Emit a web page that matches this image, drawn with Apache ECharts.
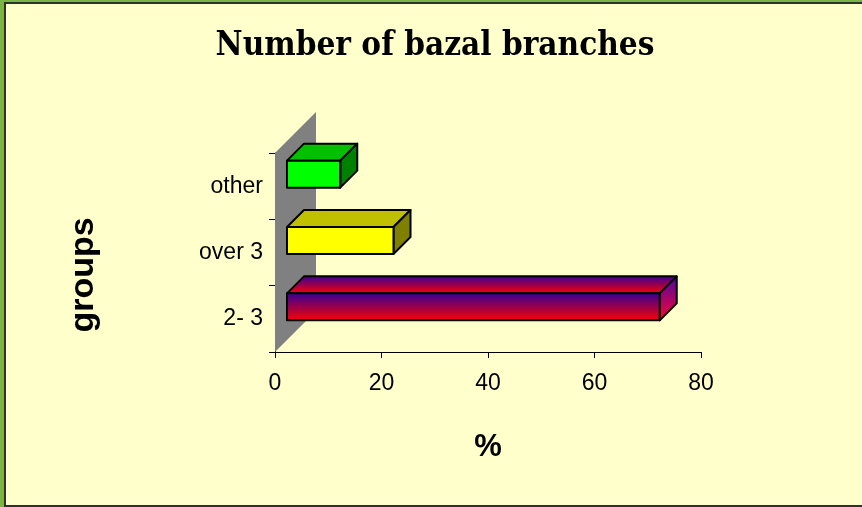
<!DOCTYPE html>
<html>
<head>
<meta charset="utf-8">
<script src="https://cdn.jsdelivr.net/npm/echarts@6/dist/echarts.min.js"></script>
<style>
  html, body { margin: 0; padding: 0; background: #7cb342; }
  #bg {
    position: absolute; left: 4px; top: 2px; width: 858px; height: 505px;
    box-sizing: border-box; background: #ffffcc;
    border-left: 2px solid #303030; border-top: 2px solid #303030; border-bottom: 2px solid #303030;
  }
  #chart { position: absolute; left: 0; top: 0; width: 862px; height: 507px; }
</style>
</head>
<body>
<div id="bg"></div>
<div id="chart"></div>
<script>
// categories bottom -> top, as ECharts lays them out on a category y axis
const groups = ['2- 3', 'over 3', 'other'];
const percent = [70, 20, 10];
const xTicks = [0, 20, 40, 60, 80];

// face colours per group: front, top, side
const faces = [
  { front: ['#330099', '#ff0000'], top: ['#330099', '#ff0000'], side: ['#4a0aa0', '#ff0033'] },
  { front: ['#ffff00'], top: ['#c0c000'], side: ['#808000'] },
  { front: ['#00ff00'], top: ['#00c000'], side: ['#008000'] }
];

const WALL = 41;     // depth of the back wall
const DEPTH = 17;    // depth of a bar
const OFF = 12;      // bar sits in the middle of the wall depth
const BAR_H = 27;

function fillOf(cols) {
  if (cols.length === 1) return cols[0];
  return new echarts.graphic.LinearGradient(0, 0, 0, 1, [
    { offset: 0, color: cols[0] },
    { offset: 1, color: cols[1] }
  ]);
}

function renderWall(params, api) {
  const band = api.size([0, 1])[1];
  const base = api.coord([0, 0]);
  const top = api.coord([0, groups.length - 1]);
  const x0 = base[0];
  const yB = base[1] + band / 2;
  const yT = top[1] - band / 2;
  return {
    type: 'polygon',
    shape: { points: [[x0, yT], [x0 + WALL, yT - WALL], [x0 + WALL, yB - WALL], [x0, yB]] },
    style: { fill: '#808080', stroke: null }
  };
}

function renderBar(params, api) {
  const v = api.value(0);
  const i = api.value(1);
  const start = api.coord([0, i]);
  const end = api.coord([v, i]);
  const f = faces[i];
  const x1 = start[0] + OFF;
  const x2 = end[0] + OFF;
  const yT = start[1] - OFF - BAR_H / 2;
  const yB = yT + BAR_H;
  const d = DEPTH;
  const line = { stroke: '#000', lineWidth: 2, lineJoin: 'round' };
  return {
    type: 'group',
    children: [
      {
        type: 'polygon',
        shape: { points: [[x1, yT], [x2, yT], [x2 + d, yT - d], [x1 + d, yT - d]] },
        style: Object.assign({ fill: fillOf(f.top) }, line)
      },
      {
        type: 'polygon',
        shape: { points: [[x2, yT], [x2 + d, yT - d], [x2 + d, yB - d], [x2, yB]] },
        style: Object.assign({ fill: fillOf(f.side) }, line)
      },
      {
        type: 'rect',
        shape: { x: x1, y: yT, width: x2 - x1, height: BAR_H },
        style: Object.assign({ fill: fillOf(f.front) }, line)
      }
    ]
  };
}

const chart = echarts.init(document.getElementById('chart'));

chart.setOption({
  backgroundColor: 'transparent',
  animation: false,
  title: {
    text: 'Number of bazal branches',
    left: 430,
    textAlign: 'center',
    top: 25,
    textStyle: {
      fontFamily: 'DejaVu Serif Condensed, DejaVu Serif',
      fontWeight: 'bold',
      fontSize: 33,
      color: '#000'
    }
  },
  // y axis title sits lower than the axis centre in the original
  graphic: [{
    type: 'text',
    x: 84,
    y: 275,
    rotation: Math.PI / 2,
    style: {
      text: 'groups',
      fontFamily: 'Liberation Sans',
      fontWeight: 'bold',
      fontSize: 34,
      fill: '#000',
      align: 'center',
      verticalAlign: 'middle'
    }
  }],
  grid: { left: 275, right: 161, top: 153, bottom: 155 },
  xAxis: {
    type: 'value',
    min: xTicks[0],
    max: xTicks[xTicks.length - 1],
    interval: 20,
    name: '%',
    nameLocation: 'middle',
    nameGap: 80,
    nameTextStyle: { fontFamily: 'Liberation Sans', fontWeight: 'bold', fontSize: 31, color: '#000' },
    axisLine: { show: true, lineStyle: { color: '#000', width: 1 } },
    axisTick: { show: true, length: 6, lineStyle: { color: '#000' } },
    axisLabel: { fontFamily: 'Liberation Sans', fontSize: 23, color: '#000', margin: 20 },
    splitLine: { show: false }
  },
  yAxis: {
    type: 'category',
    data: groups,
    axisLine: { show: true, lineStyle: { color: '#000', width: 1 } },
    axisTick: { show: true, length: 6, lineStyle: { color: '#000' } },
    axisLabel: { fontFamily: 'Liberation Sans', fontSize: 23, color: '#000', margin: 12 },
    splitLine: { show: false }
  },
  series: [
    {
      type: 'custom',
      name: 'wall',
      renderItem: renderWall,
      data: [[0, 0]],
      encode: { x: 0, y: 1 },
      z: 1,
      silent: true
    },
    {
      type: 'custom',
      name: 'bars',
      renderItem: renderBar,
      data: percent.map((v, i) => [v, i]),
      encode: { x: 0, y: 1 },
      z: 2
    }
  ]
});
</script>
</body>
</html>
